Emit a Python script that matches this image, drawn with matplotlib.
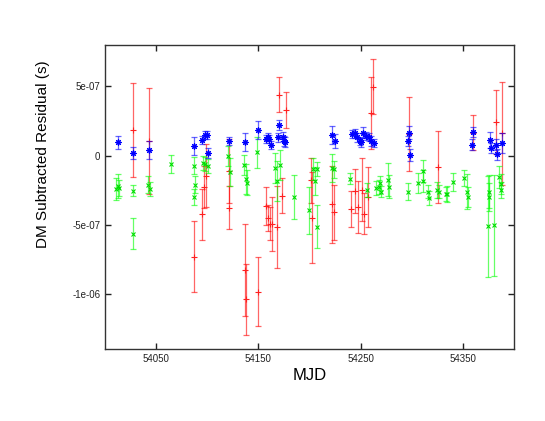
import matplotlib
matplotlib.use("Agg")
import matplotlib.pyplot as plt
import numpy as np
from matplotlib.ticker import MultipleLocator, FuncFormatter

plt.rcParams['font.family'] = ['Liberation Sans', 'DejaVu Sans']

SCALE = 1e-7  # residual values below are in units of 1e-7 s

# blue series
blue_mjd = [54012.7, 54027, 54043, 54087.3, 54095, 54098, 54099.5, 54100.4, 54121,
            54137.2, 54149.3, 54157.5, 54159.7, 54160.7, 54162.3, 54168.9, 54170.5,
            54173.8, 54175.4, 54176.3, 54222.3, 54225.2, 54241.9, 54244.2, 54246.5,
            54249, 54250.7, 54252.3, 54255.6, 54258.2, 54260.4, 54263, 54297, 54296.5,
            54298.3, 54358.5, 54359.5, 54376.5, 54377.5, 54382.7, 54383.7, 54388]
blue_res = [0.95, 0.18, 0.42, 0.71, 1.14, 1.47, 1.5, 0.16, 1.04,
            0.99, 1.86, 1.19, 1.35, 1.19, 0.76, 1.31, 2.19,
            1.38, 1.07, 0.99, 1.47, 1.07, 1.55, 1.6, 1.31,
            1.07, 0.95, 1.67, 1.43, 1.35, 1.07, 0.9, 1.67, 1.07,
            0.04, 0.8, 1.69, 1.12, 0.54, 0.78, 0.1, 0.9]
blue_err = [0.45, 0.45, 0.65, 0.65, 0.3, 0.3, 0.3, 0.36, 0.3,
            0.65, 0.66, 0.3, 0.3, 0.3, 0.3, 0.3, 0.35,
            0.35, 0.35, 0.35, 0.64, 0.5, 0.3, 0.3, 0.3,
            0.3, 0.3, 0.4, 0.3, 0.3, 0.35, 0.3, 0.5, 0.35,
            0.4, 0.4, 0.35, 0.6, 0.35, 0.4, 0.4, 0.7]

# red series
red_mjd = [54027, 54043, 54087.3, 54094.9, 54097, 54099, 54121, 54121.5,
           54137.2, 54137.7, 54149.3, 54157.5, 54159, 54161.4, 54163.5, 54168,
           54170.5, 54173, 54176.7, 54201.5, 54202.5, 54222.3, 54224,
           54240.9, 54244.2, 54247.4, 54251.6, 54253, 54257.2, 54260.5, 54262,
           54297, 54326, 54360, 54382.7, 54388]
red_res = [1.88, 1.06, -7.33, -4.26, -2.27, -1.45, -3.78, -1.1,
           -8.29, -10.4, -9.84, -3.68, -4.52, -4.93, -4.93, -5.17,
           4.42, -2.89, 3.3, -1.8, -4.5, -3.54, -4.1,
           -3.85, -2.58, -3.73, -2.46, -4.2, -3.0, 3.1, 4.98,
           1.55, -0.85, 1.67, 2.43, 1.6]
red_err = [3.4, 3.85, 2.57, 1.84, 1.5, 2.3, 1.56, 2.3,
           3.33, 2.58, 2.5, 1.38, 0.96, 1.2, 1.95, 3.0,
           1.3, 1.26, 1.3, 1.6, 3.3, 2.76, 2.0,
           1.3, 1.6, 1.9, 2.3, 1.5, 2.15, 2.6, 2.0,
           2.7, 2.6, 1.3, 2.3, 3.7]

# green series
green_mjd = [54011, 54012.5, 54014, 54027, 54027.5, 54042, 54043.5, 54064,
             54087, 54087.5, 54086.5, 54095.5, 54098, 54100.5, 54120.5, 54122,
             54136, 54138, 54139, 54148.4, 54166, 54168.5, 54171, 54185,
             54199.8, 54203.5, 54205, 54207, 54207.6, 54222, 54224, 54239.3,
             54256.5, 54265.3, 54267.5, 54269, 54270, 54277, 54278, 54296,
             54306.5, 54311, 54311.5, 54316, 54316.5, 54325, 54327, 54333.5,
             54334.8, 54340.6, 54351, 54354, 54355, 54374.6, 54380.4, 54375.5,
             54376, 54385, 54387, 54387.5]
green_res = [-2.4, -2.2, -2.35, -2.55, -5.65, -2.1, -2.4, -0.61,
             -0.73, -2.1, -3.0, -0.54, -0.6, -0.75, -0.04, -1.2,
             -0.68, -1.7, -1.95, 0.23, -0.9, -1.86, -0.68, -3.0,
             -3.97, -0.97, -1.85, -0.97, -5.14, -0.9, -1.0, -1.69,
             -2.48, -2.34, -2.3, -2.0, -2.6, -1.76, -2.24, -2.6,
             -1.98, -1.1, -1.86, -2.6, -3.05, -2.5, -2.6, -2.8,
             -2.77, -1.93, -1.62, -2.6, -3.0, -5.12, -5.05, -2.6,
             -3.0, -1.57, -2.05, -2.5]
green_err = [0.8, 0.85, 0.6, 0.41, 1.1, 0.62, 0.5, 0.63,
             0.6, 0.6, 0.6, 0.5, 0.5, 0.5, 0.75, 1.0,
             0.74, 1.08, 0.9, 1.14, 1.1, 1.44, 1.1, 1.56,
             1.67, 0.8, 1.0, 0.5, 1.55, 1.0, 0.6, 0.4,
             0.5, 0.5, 0.5, 0.5, 0.4, 1.2, 0.8, 0.62,
             0.7, 0.8, 0.8, 0.5, 0.5, 0.6, 0.5, 0.5,
             0.6, 0.65, 0.6, 1.3, 0.7, 3.65, 3.65, 1.2,
             1.0, 0.8, 0.7, 0.6]

fig = plt.figure(figsize=(5.45, 4.21), dpi=100)
ax = fig.add_axes([0.193, 0.171, 0.750, 0.722])

series = [
    (red_mjd, red_res, red_err, '#ff0000', '#ff2020', '+', 4.5),
    (green_mjd, green_res, green_err, '#00ff00', '#00dd00', 'x', 3.5),
    (blue_mjd, blue_res, blue_err, '#0000ff', '#0000ff', (8, 2, 0), 4.5),
]
for mjd, res, err, ecol, mcol, mk, ms in series:
    y = np.array(res) * SCALE
    e = np.array(err) * SCALE
    ax.errorbar(mjd, y, yerr=e, fmt='none', ecolor=ecol, elinewidth=0.9,
                capsize=2, capthick=0.9, alpha=0.6)
    ax.plot(mjd, y, linestyle='none', marker=mk, color=mcol,
            markersize=ms, markeredgewidth=0.8)

ax.set_xlim(54000, 54400)
ax.set_ylim(-1.4e-6, 8e-7)
ax.set_xticks([54050, 54150, 54250, 54350])
ax.yaxis.set_major_locator(MultipleLocator(5e-7))
ax.yaxis.set_major_formatter(FuncFormatter(lambda v, p: '%g' % v))

ax.tick_params(direction='in', length=4, width=1, labelsize=7,
               top=True, right=True, colors='#222222')
for s in ax.spines.values():
    s.set_color('#333333')
    s.set_linewidth(1.0)

ax.set_xlabel('MJD', fontsize=12, labelpad=3)
ax.set_ylabel('DM Subtracted Residual (s)', fontsize=11)
ax.yaxis.set_label_coords(-0.135, 0.64)

fig.savefig('out.png', dpi=100)
